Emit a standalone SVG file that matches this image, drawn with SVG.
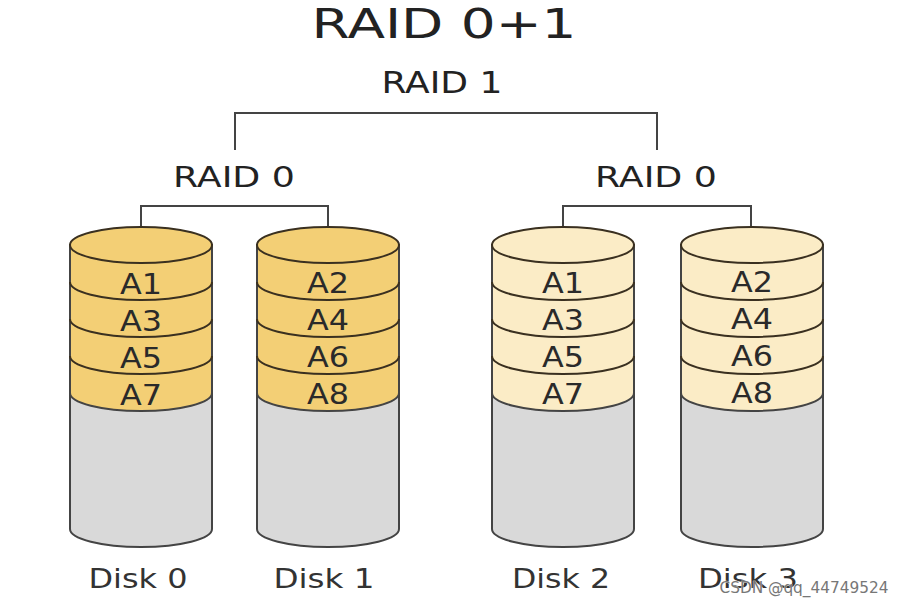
<svg xmlns="http://www.w3.org/2000/svg" width="905" height="605" viewBox="0 0 905 605">
<style>
text{font-family:"DejaVu Sans","Liberation Sans",sans-serif;fill:#222;text-anchor:middle}
.lbl{font-size:28px}
.band{font-size:28px;fill:#2a2a2a}
.disk{font-size:27px;fill:#333}
.conn{fill:none;stroke:#444;stroke-width:2}
.body{fill:#d9d9d9;stroke:#444;stroke-width:2}
.line{fill:none;stroke:#3a3020;stroke-width:2}
.g1{fill:#f3cf75}
.g2{fill:#fbecc6}
</style>
<defs>
<g id="cyl">
<path class="body" d="M-71,0 V284 A71,18 0 0 0 71,284 V0 Z"/>
<path class="fillband" d="M-71,0 V148 A71,18 0 0 0 71,148 V0 Z"/>
</g>
</defs>
<rect width="905" height="605" fill="#fff"/>
<text x="444" y="38" style="font-size:41px" textLength="265" lengthAdjust="spacingAndGlyphs">RAID 0+1</text>
<text x="442" y="93" class="lbl" style="font-size:31px" textLength="121" lengthAdjust="spacingAndGlyphs">RAID 1</text>
<text x="234" y="187" class="lbl" textLength="122" lengthAdjust="spacingAndGlyphs">RAID 0</text>
<text x="656" y="187" class="lbl" textLength="122" lengthAdjust="spacingAndGlyphs">RAID 0</text>
<g id="connectors">
<path class="conn" d="M235,150 V113 H657 V150"/>
<path class="conn" d="M141,243 V206 H328 V243"/>
<path class="conn" d="M563,243 V206 H751 V243"/>
</g>
<g id="disk0" transform="translate(141,245)">
<path class="body" d="M-71,0 V284 A71,18 0 0 0 71,284 V0 Z"/>
<path class="g1" stroke="#444" stroke-width="2" d="M-71,0 V148 A71,18 0 0 0 71,148 V0 Z"/>
<path class="line" d="M-71,37 A71,18 0 0 0 71,37 M-71,74 A71,18 0 0 0 71,74 M-71,111 A71,18 0 0 0 71,111"/>
<ellipse class="g1" cx="0" cy="0" rx="71" ry="18" stroke="#3a3020" stroke-width="2"/>
<text class="band" x="0" y="49" textLength="42" lengthAdjust="spacingAndGlyphs">A1</text>
<text class="band" x="0" y="86" textLength="42" lengthAdjust="spacingAndGlyphs">A3</text>
<text class="band" x="0" y="123" textLength="42" lengthAdjust="spacingAndGlyphs">A5</text>
<text class="band" x="0" y="160" textLength="42" lengthAdjust="spacingAndGlyphs">A7</text>
<text class="disk" x="-3" y="343" textLength="99" lengthAdjust="spacingAndGlyphs">Disk 0</text>
</g>
<g id="disk1" transform="translate(328,245)">
<path class="body" d="M-71,0 V284 A71,18 0 0 0 71,284 V0 Z"/>
<path class="g1" stroke="#444" stroke-width="2" d="M-71,0 V148 A71,18 0 0 0 71,148 V0 Z"/>
<path class="line" d="M-71,37 A71,18 0 0 0 71,37 M-71,74 A71,18 0 0 0 71,74 M-71,111 A71,18 0 0 0 71,111"/>
<ellipse class="g1" cx="0" cy="0" rx="71" ry="18" stroke="#3a3020" stroke-width="2"/>
<text class="band" x="0" y="48" textLength="42" lengthAdjust="spacingAndGlyphs">A2</text>
<text class="band" x="0" y="85" textLength="42" lengthAdjust="spacingAndGlyphs">A4</text>
<text class="band" x="0" y="122" textLength="42" lengthAdjust="spacingAndGlyphs">A6</text>
<text class="band" x="0" y="159" textLength="42" lengthAdjust="spacingAndGlyphs">A8</text>
<text class="disk" x="-4" y="343" textLength="101" lengthAdjust="spacingAndGlyphs">Disk 1</text>
</g>
<g id="disk2" transform="translate(563,245)">
<path class="body" d="M-71,0 V284 A71,18 0 0 0 71,284 V0 Z"/>
<path class="g2" stroke="#444" stroke-width="2" d="M-71,0 V148 A71,18 0 0 0 71,148 V0 Z"/>
<path class="line" d="M-71,37 A71,18 0 0 0 71,37 M-71,74 A71,18 0 0 0 71,74 M-71,111 A71,18 0 0 0 71,111"/>
<ellipse class="g2" cx="0" cy="0" rx="71" ry="18" stroke="#3a3020" stroke-width="2"/>
<text class="band" x="0" y="48" textLength="42" lengthAdjust="spacingAndGlyphs">A1</text>
<text class="band" x="0" y="85" textLength="42" lengthAdjust="spacingAndGlyphs">A3</text>
<text class="band" x="0" y="122" textLength="42" lengthAdjust="spacingAndGlyphs">A5</text>
<text class="band" x="0" y="159" textLength="42" lengthAdjust="spacingAndGlyphs">A7</text>
<text class="disk" x="-2" y="343" textLength="98" lengthAdjust="spacingAndGlyphs">Disk 2</text>
</g>
<g id="disk3" transform="translate(752,245)">
<path class="body" d="M-71,0 V284 A71,18 0 0 0 71,284 V0 Z"/>
<path class="g2" stroke="#444" stroke-width="2" d="M-71,0 V148 A71,18 0 0 0 71,148 V0 Z"/>
<path class="line" d="M-71,37 A71,18 0 0 0 71,37 M-71,74 A71,18 0 0 0 71,74 M-71,111 A71,18 0 0 0 71,111"/>
<ellipse class="g2" cx="0" cy="0" rx="71" ry="18" stroke="#3a3020" stroke-width="2"/>
<text class="band" x="0" y="47" textLength="42" lengthAdjust="spacingAndGlyphs">A2</text>
<text class="band" x="0" y="84" textLength="42" lengthAdjust="spacingAndGlyphs">A4</text>
<text class="band" x="0" y="121" textLength="42" lengthAdjust="spacingAndGlyphs">A6</text>
<text class="band" x="0" y="158" textLength="42" lengthAdjust="spacingAndGlyphs">A8</text>
<text class="disk" x="-4" y="343" textLength="100" lengthAdjust="spacingAndGlyphs">Disk 3</text>
</g>
<text x="804" y="593" style="font-size:16px;fill:#777;stroke:#fff;stroke-width:0.6;paint-order:stroke" textLength="169" lengthAdjust="spacingAndGlyphs">CSDN @qq_44749524</text>
</svg>
